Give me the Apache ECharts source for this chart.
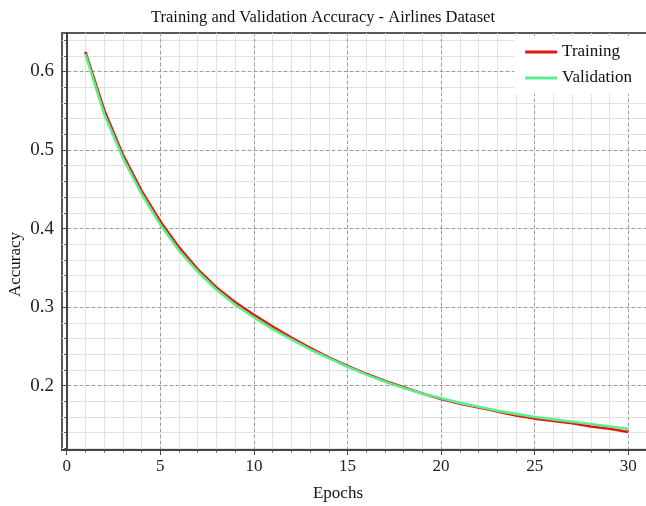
<!DOCTYPE html>
<html>
<head>
<meta charset="utf-8">
<script src="https://cdn.jsdelivr.net/npm/echarts@6/dist/echarts.min.js"></script>
<style>
  html, body { margin: 0; padding: 0; background: #fff; }
  #chart { width: 646px; height: 506px; }
</style>
</head>
<body>
<div id="chart"></div>
<script>
// Per-epoch accuracy curves
const epochs = [1,2,3,4,5,6,7,8,9,10,11,12,13,14,15,16,17,18,19,20,21,22,23,24,25,26,27,28,29,30];
const trainingAcc = [0.625,0.551,0.494,0.448,0.409,0.376,0.348,0.325,0.306,0.290,
                     0.275,0.261,0.248,0.236,0.225,0.215,0.206,0.198,0.190,0.183,
                     0.177,0.172,0.167,0.162,0.158,0.155,0.152,0.148,0.145,0.141];
const validationAcc = [0.622,0.546,0.490,0.444,0.405,0.372,0.345,0.322,0.303,0.287,
                       0.272,0.259,0.246,0.235,0.224,0.214,0.205,0.197,0.190,0.184,
                       0.178,0.173,0.168,0.164,0.160,0.157,0.154,0.151,0.148,0.145];

// Tick positions
const xMajorTicks = [0,5,10,15,20,25,30];
const xMinorTicks = [0,1,2,3,4,5,6,7,8,9,10,11,12,13,14,15,16,17,18,19,20,21,22,23,24,25,26,27,28,29,30,31];
const yMajorTicks = [0.2,0.3,0.4,0.5,0.6];
const yMinorTicks = [0.12,0.14,0.16,0.18,0.2,0.22,0.24,0.26,0.28,0.3,0.32,0.34,0.36,0.38,0.4,
                     0.42,0.44,0.46,0.48,0.5,0.52,0.54,0.56,0.58,0.6,0.62,0.64];

const serif = "'Liberation Serif', 'DejaVu Serif', serif";
const X_MIN = -0.25, X_MAX = 31.05;
const Y_MIN = 0.118, Y_MAX = 0.649;

const chart = echarts.init(document.getElementById('chart'), null, { renderer: 'canvas' });

chart.setOption({
  animation: false,
  backgroundColor: '#ffffff',
  title: {
    text: 'Training and Validation Accuracy - Airlines Dataset',
    left: 'center',
    top: 4,
    textStyle: { fontFamily: serif, fontSize: 16.5, fontWeight: 'normal', color: '#111' }
  },
  grid: {
    left: 62, right: -2, top: 33, bottom: 56,
    containLabel: false,
    outerBoundsMode: 'none',
    show: true, borderColor: '#595959', borderWidth: 2, backgroundColor: 'transparent'
  },
  legend: {
    right: 0, top: 36,
    orient: 'vertical',
    backgroundColor: '#ffffff',
    padding: [6, 14, 6, 11],
    itemGap: 6,
    itemWidth: 32, itemHeight: 3,
    icon: 'rect',
    textStyle: { fontFamily: serif, fontSize: 17, color: '#111', lineHeight: 20 },
    data: ['Training', 'Validation']
  },
  xAxis: [
    {
      type: 'value', gridIndex: 0, min: X_MIN, max: X_MAX, position: 'bottom', z: 2,
      name: 'Epochs', nameLocation: 'middle', nameGap: 35, nameMoveOverlap: false,
      nameTextStyle: { fontFamily: serif, fontSize: 17, color: '#111', padding: [0, 34, 0, 0] },
      axisLine: { show: true, lineStyle: { color: '#444', width: 2 } },
      axisTick: { show: true, customValues: xMajorTicks, inside: false, length: 5, lineStyle: { color: '#444' } },
      axisLabel: { show: true, customValues: xMajorTicks, margin: 8, fontFamily: serif, fontSize: 17, color: '#222' },
      splitLine: { show: true, lineStyle: { color: '#9a9a9a', type: [3, 3], width: 1 } }
    },
    {
      type: 'value', gridIndex: 0, min: X_MIN, max: X_MAX, position: 'bottom', z: 1,
      axisLine: { show: false },
      axisTick: { show: true, customValues: xMinorTicks, inside: false, length: 2.5, lineStyle: { color: '#555' } },
      axisLabel: { show: false },
      splitLine: { show: true, lineStyle: { color: '#e2e2e2', width: 1 } }
    }
  ],
  yAxis: [
    {
      type: 'value', gridIndex: 0, min: Y_MIN, max: Y_MAX, position: 'left', z: 2,
      name: 'Accuracy', nameLocation: 'middle', nameGap: 38, nameMoveOverlap: false,
      nameTextStyle: { fontFamily: serif, fontSize: 17, color: '#111', padding: [0, 46, 0, 0] },
      axisLine: { show: true, lineStyle: { color: '#444', width: 2 } },
      axisTick: { show: true, customValues: yMajorTicks, inside: false, length: 5, lineStyle: { color: '#444' } },
      axisLabel: { show: true, customValues: yMajorTicks, margin: 8, fontFamily: serif, fontSize: 19, color: '#222',
                   formatter: v => v.toFixed(1) },
      splitLine: { show: true, lineStyle: { color: '#9a9a9a', type: [3, 3], width: 1 } }
    },
    {
      type: 'value', gridIndex: 0, min: Y_MIN, max: Y_MAX, position: 'left', z: 1,
      axisLine: { show: false },
      axisTick: { show: true, customValues: yMinorTicks, inside: false, length: 2.5, lineStyle: { color: '#555' } },
      axisLabel: { show: false },
      splitLine: { show: true, lineStyle: { color: '#e2e2e2', width: 1 } }
    }
  ],
  series: [
    {
      name: 'Training', type: 'line', xAxisIndex: 0, yAxisIndex: 0,
      data: epochs.map((e, i) => [e, trainingAcc[i]]),
      showSymbol: false, smooth: false,
      lineStyle: { color: '#e8150f', width: 2.6 },
      itemStyle: { color: '#e8150f' },
      z: 3
    },
    {
      name: 'Validation', type: 'line', xAxisIndex: 0, yAxisIndex: 0,
      data: epochs.map((e, i) => [e, validationAcc[i]]),
      showSymbol: false, smooth: false,
      lineStyle: { color: '#5bef8c', width: 2.6 },
      itemStyle: { color: '#5bef8c' },
      z: 4
    }
  ]
});
</script>
</body>
</html>
